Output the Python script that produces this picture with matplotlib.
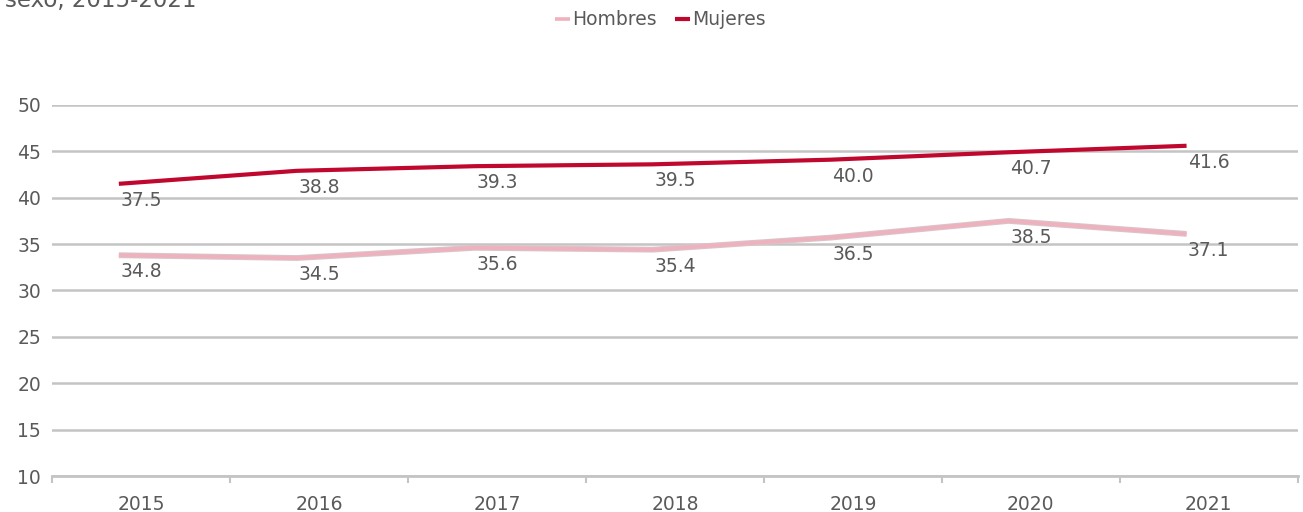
import matplotlib
matplotlib.use("Agg")
import matplotlib.pyplot as plt
import numpy as np

# data (line heights on the axis scale, and the printed labels)
years = ["2015", "2016", "2017", "2018", "2019", "2020", "2021"]
hombres_line = [33.8, 33.5, 34.6, 34.4, 35.7, 37.5, 36.1]
mujeres_line = [41.5, 42.9, 43.4, 43.6, 44.1, 44.9, 45.6]
hombres_labels = ["34.8", "34.5", "35.6", "35.4", "36.5", "38.5", "37.1"]
mujeres_labels = ["37.5", "38.8", "39.3", "39.5", "40.0", "40.7", "41.6"]
yticks = [10, 15, 20, 25, 30, 35, 40, 45, 50]

TXT = "#5a5a5a"
GRID = "#c4c4c4"
C_H = "#efb1bd"
C_M = "#c0082e"
FS = 13.5

plt.rcParams["font.family"] = ["DejaVu Sans"]

fig = plt.figure(figsize=(13.03, 5.12), dpi=100)
ax = fig.add_axes([0.040, 0.0703, 0.956, 0.7247])

x = np.arange(len(years))
shift = -0.125  # lines sit a bit left of the category centres in the source

ax.plot(x + shift, hombres_line, color="#d9c4c8", lw=4.2, solid_capstyle="butt", zorder=3)
ax.plot(x + shift, hombres_line, color=C_H, lw=2.6, solid_capstyle="butt", zorder=4,
        label="Hombres")
ax.plot(x + shift, mujeres_line, color=C_M, lw=3.0, solid_capstyle="butt", zorder=4,
        label="Mujeres")

for xi, yv, lab in zip(x, hombres_line, hombres_labels):
    ax.annotate(lab, (xi, yv), xytext=(0, -12), textcoords="offset points",
                ha="center", va="center", fontsize=FS, color=TXT, zorder=5)
for xi, yv, lab in zip(x, mujeres_line, mujeres_labels):
    ax.annotate(lab, (xi, yv), xytext=(0, -12), textcoords="offset points",
                ha="center", va="center", fontsize=FS, color=TXT, zorder=5)

ax.set_xlim(-0.5, len(years) - 0.5)
ax.set_ylim(10, 50)
ax.set_yticks(yticks)
ax.set_yticklabels([str(v) for v in yticks])
ax.set_xticks(x)
ax.set_xticklabels(years)
ax.set_xticks(np.arange(-0.5, len(years)), minor=True)

for s in ["top", "right", "left"]:
    ax.spines[s].set_visible(False)
ax.spines["bottom"].set_color(GRID)
ax.spines["bottom"].set_linewidth(2.0)
ax.grid(axis="y", color=GRID, lw=1.8, zorder=0)
ax.set_axisbelow(True)

ax.tick_params(axis="y", length=0, pad=8, labelsize=FS, labelcolor=TXT)
ax.tick_params(axis="x", which="major", length=0, pad=14, labelsize=FS, labelcolor=TXT)
ax.tick_params(axis="x", which="minor", length=5, width=1.5, color=GRID, direction="out")

fig.legend(loc="center", bbox_to_anchor=(0.507, 0.961), ncol=2, frameon=False,
           fontsize=FS, handlelength=0.8, handletextpad=0.1, columnspacing=1.0,
           labelcolor=TXT)

# title is cut off at the top edge in the source
fig.text(0.004, 1 - 7 / 512, "sexo, 2015-2021", ha="left", va="baseline",
         fontsize=16.5, color=TXT)

fig.savefig("out.png", dpi=100)
